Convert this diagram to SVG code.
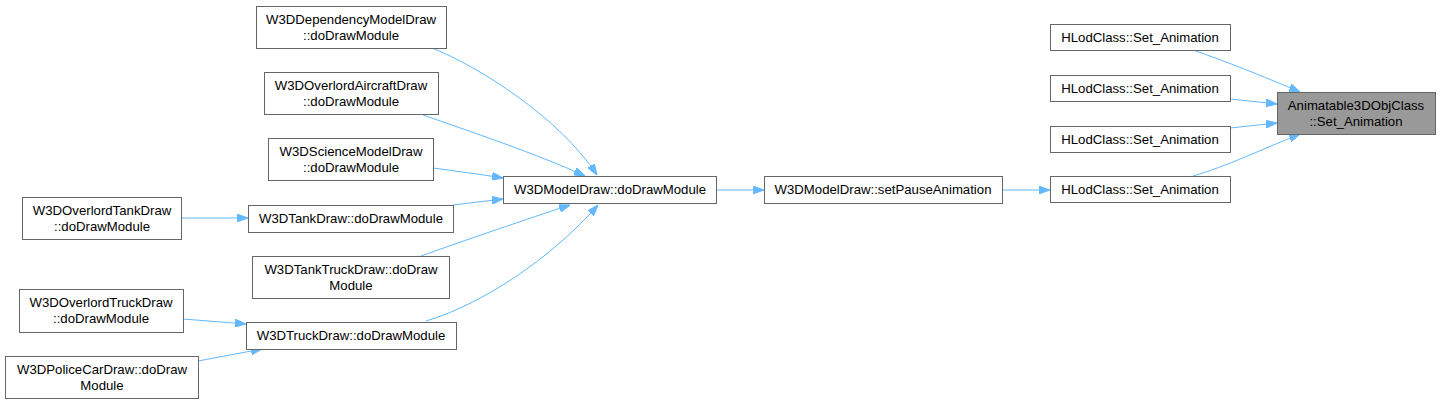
<svg xmlns="http://www.w3.org/2000/svg" width="1441" height="404" viewBox="0 0 1441 404">
<style>
.n rect{fill:#fff;stroke:#666;stroke-width:1}
.n.h rect{fill:#999}
text{font-family:"Liberation Sans",Arial,sans-serif;font-size:13.2px;fill:#000;text-anchor:middle}
.e path{fill:none;stroke:#63b8ff;stroke-width:1}
</style>
<defs>
<marker id="a" viewBox="0 0 10 7" refX="10" refY="3.5" markerWidth="11" markerHeight="8" markerUnits="userSpaceOnUse" orient="auto">
<path d="M0,0 L10,3.5 L0,7 Z" fill="#63b8ff" stroke="#63b8ff"/>
</marker>
</defs>
<rect width="1441" height="404" fill="#fff"/>
<g class="e">
<path marker-end="url(#a)" d="M432,48 C478,66 560,118 597,175"/>
<path marker-end="url(#a)" d="M423,115 C466,130 540,155 585,176"/>
<path marker-end="url(#a)" d="M433,168 C455,171 478,174 503,178"/>
<path marker-end="url(#a)" d="M453,205 L503,199"/>
<path marker-end="url(#a)" d="M421,256 C460,242 530,218 570,205"/>
<path marker-end="url(#a)" d="M426,321 C480,305 550,260 598,205"/>
<path marker-end="url(#a)" d="M181,218 L248,218"/>
<path marker-end="url(#a)" d="M183,319 L246,324"/>
<path marker-end="url(#a)" d="M198,361 L262,349"/>
<path marker-end="url(#a)" d="M716,190 L764,190"/>
<path marker-end="url(#a)" d="M1002,190 L1050,190"/>
<path marker-end="url(#a)" d="M1193,50 C1225,61 1265,77 1300,92"/>
<path marker-end="url(#a)" d="M1230,99 L1277,104"/>
<path marker-end="url(#a)" d="M1230,128 L1277,123"/>
<path marker-end="url(#a)" d="M1193,176 C1225,167 1265,148 1300,134"/>
</g>
<g id="n0" class="n h"><rect x="1277.5" y="92.5" width="158" height="42"/><text x="1356" y="110">Animatable3DObjClass</text><text x="1356" y="126">::Set_Animation</text></g>
<g id="n1" class="n"><rect x="1050.5" y="24.5" width="180" height="26"/><text x="1140" y="42">HLodClass::Set_Animation</text></g>
<g id="n2" class="n"><rect x="1050.5" y="75.5" width="180" height="26"/><text x="1140" y="93">HLodClass::Set_Animation</text></g>
<g id="n3" class="n"><rect x="1050.5" y="126.5" width="180" height="26"/><text x="1140" y="144">HLodClass::Set_Animation</text></g>
<g id="n4" class="n"><rect x="1050.5" y="176.5" width="180" height="26"/><text x="1140" y="194">HLodClass::Set_Animation</text></g>
<g id="n5" class="n"><rect x="764.5" y="176.5" width="238" height="27"/><text x="883" y="194">W3DModelDraw::setPauseAnimation</text></g>
<g id="n6" class="n"><rect x="503.5" y="176.5" width="213" height="27"/><text x="610" y="194">W3DModelDraw::doDrawModule</text></g>
<g id="n7" class="n"><rect x="256.5" y="6.5" width="190" height="42"/><text x="351" y="24">W3DDependencyModelDraw</text><text x="351" y="40">::doDrawModule</text></g>
<g id="n8" class="n"><rect x="264.5" y="72.5" width="174" height="42"/><text x="351" y="90">W3DOverlordAircraftDraw</text><text x="351" y="106">::doDrawModule</text></g>
<g id="n9" class="n"><rect x="268.5" y="138.5" width="165" height="42"/><text x="351" y="156">W3DScienceModelDraw</text><text x="351" y="172">::doDrawModule</text></g>
<g id="n10" class="n"><rect x="248.5" y="205.5" width="205" height="27"/><text x="351" y="223">W3DTankDraw::doDrawModule</text></g>
<g id="n11" class="n"><rect x="252.5" y="256.5" width="197" height="42"/><text x="351" y="274">W3DTankTruckDraw::doDraw</text><text x="351" y="290">Module</text></g>
<g id="n12" class="n"><rect x="246.5" y="322.5" width="210" height="27"/><text x="351" y="340">W3DTruckDraw::doDrawModule</text></g>
<g id="n13" class="n"><rect x="22.5" y="197.5" width="159" height="42"/><text x="102" y="215">W3DOverlordTankDraw</text><text x="102" y="231">::doDrawModule</text></g>
<g id="n14" class="n"><rect x="19.5" y="289.5" width="164" height="43"/><text x="101" y="307">W3DOverlordTruckDraw</text><text x="101" y="323">::doDrawModule</text></g>
<g id="n15" class="n"><rect x="5.5" y="356.5" width="193" height="42"/><text x="102" y="374">W3DPoliceCarDraw::doDraw</text><text x="102" y="390">Module</text></g>
</svg>
